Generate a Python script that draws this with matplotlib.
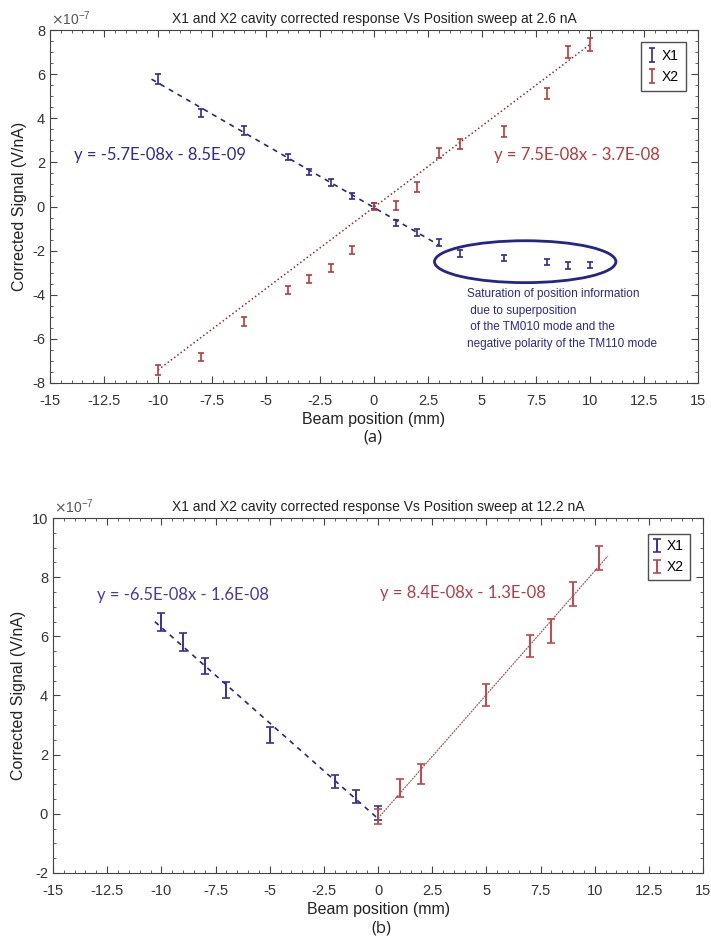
import matplotlib
matplotlib.use('Agg')
import matplotlib.pyplot as plt
import numpy as np
from matplotlib.patches import Ellipse
from matplotlib.ticker import MultipleLocator, FuncFormatter

plt.rcParams['font.family'] = ['Liberation Sans', 'DejaVu Sans']
plt.rcParams['axes.unicode_minus'] = False

SCALE = 1e-7  # values below are in units of 1e-7 V/nA

# (a) sweep at 2.6 nA
pos_a = [-10, -8, -6, -4, -3, -2, -1, 0, 1, 2, 3, 4, 6, 8, 9, 10]
x1_a = [5.78, 4.24, 3.43, 2.25, 1.57, 1.10, 0.48, 0.02, -0.74, -1.18, -1.62, -2.12, -2.33, -2.52, -2.68, -2.65]
x1_a_err = [0.22, 0.2, 0.2, 0.15, 0.15, 0.15, 0.15, 0.15, 0.15, 0.15, 0.15, 0.15, 0.15, 0.15, 0.15, 0.15]
x2_a = [-7.41, -6.82, -5.23, -3.78, -3.29, -2.78, -1.97, 0.0, 0.05, 0.9, 2.43, 2.83, 3.42, 5.14, 7.0, 7.35]
x2_a_err = [0.22, 0.2, 0.2, 0.18, 0.18, 0.18, 0.2, 0.15, 0.2, 0.22, 0.22, 0.22, 0.25, 0.25, 0.27, 0.28]

# (b) sweep at 12.2 nA
pos_b1 = [-10, -9, -8, -7, -5, -2, -1, 0]
x1_b = [6.49, 5.81, 5.0, 4.19, 2.67, 1.08, 0.57, 0.03]
x1_b_err = [0.3, 0.3, 0.28, 0.28, 0.28, 0.22, 0.22, 0.25]
pos_b2 = [0, 1, 2, 5, 7, 8, 9, 10.2]
x2_b = [-0.1, 0.88, 1.35, 4.02, 5.68, 6.18, 7.43, 8.65]
x2_b_err = [0.25, 0.31, 0.34, 0.37, 0.38, 0.4, 0.42, 0.42]

eq_a1 = 'y = -5.7E-08x - 8.5E-09'
eq_a2 = 'y = 7.5E-08x - 3.7E-08'
eq_b1 = 'y = -6.5E-08x - 1.6E-08'
eq_b2 = 'y = 8.4E-08x - 1.3E-08'

blue = '#2e2a96'
red = '#b8393b'
tick_c = '#333333'
cal = ['Lato', 'DejaVu Sans']


def style_axes(ax, ylim, ystep):
    ax.set_xlim(-15, 15)
    ax.set_ylim(ylim[0] * SCALE, ylim[1] * SCALE)
    ax.xaxis.set_major_locator(MultipleLocator(2.5))
    ax.xaxis.set_minor_locator(MultipleLocator(0.5))
    ax.yaxis.set_major_locator(MultipleLocator(ystep * SCALE))
    ax.yaxis.set_minor_locator(MultipleLocator(0.5 * SCALE))
    ax.xaxis.set_major_formatter(FuncFormatter(lambda v, p: '%g' % v))
    ax.yaxis.set_major_formatter(FuncFormatter(lambda v, p: '%g' % round(v / SCALE, 6)))
    ax.text(0.002, 1.006, r'$\times\mathregular{10^{-7}}$', transform=ax.transAxes, fontsize=10,
            color='#555555', ha='left', va='bottom')
    ax.tick_params(which='both', direction='in', top=True, right=True, colors='#444444',
                   labelcolor=tick_c, labelsize=10.5)
    ax.tick_params(which='major', length=5)
    ax.tick_params(which='minor', length=2.5)
    ax.tick_params(axis='x', pad=8)
    for s in ax.spines.values():
        s.set_color('#444444')
    ax.set_xlabel('Beam position (mm)', fontsize=11.5, color='#222222', labelpad=3)
    ax.set_ylabel('Corrected Signal (V/nA)', fontsize=11.5, color='#222222', labelpad=4)


fig = plt.figure(figsize=(7.11, 9.41), dpi=100)
ax1 = fig.add_axes([0.0703, 0.593, 0.9114, 0.375])
ax2 = fig.add_axes([0.0745, 0.0723, 0.9145, 0.3772])

# ---- (a)
pa = np.array(pos_a, dtype=float)
y1 = np.array(x1_a) * SCALE
y2 = np.array(x2_a) * SCALE
e1 = ax1.errorbar(pa, y1, yerr=np.array(x1_a_err) * SCALE, fmt='none', ecolor=blue,
                  elinewidth=1.2, capsize=2.5, capthick=1.2, label='X1', zorder=3)
e2 = ax1.errorbar(pa, y2, yerr=np.array(x2_a_err) * SCALE, fmt='none', ecolor=red,
                  elinewidth=1.2, capsize=2.5, capthick=1.2, label='X2', zorder=3)

# trend lines
lin = pa <= 3
k1, b1 = np.polyfit(pa[lin], y1[lin], 1)
xx = np.array([-10.3, 3.0])
ax1.plot(xx, k1 * xx + b1, ls=(0, (3, 3)), color='#2a2a70', lw=1.2, zorder=2)
ax1.plot([pa[0], pa[-1]], [y2[0], y2[-1]], ls=':', color='#8a3030', lw=1.1, zorder=2)

ax1.add_patch(Ellipse((7.0, -2.5 * SCALE), 8.4, 1.9 * SCALE, fill=False, ec='#24248a', lw=2, zorder=4))
ax1.text(4.3, -3.7 * SCALE, 'Saturation of position information\n due to superposition\n'
         ' of the TM010 mode and the\nnegative polarity of the TM110 mode',
         fontsize=8.5, color='#2a2a8a', va='top', ha='left', linespacing=1.5)
ax1.text(-13.9, 2.33 * SCALE, eq_a1, fontsize=12, color=blue, family=cal, va='center')
ax1.text(5.55, 2.33 * SCALE, eq_a2, fontsize=12, color=red, family=cal, va='center')
ax1.set_title('X1 and X2 cavity corrected response Vs Position sweep at 2.6 nA', fontsize=10, pad=5, color='#222222')
style_axes(ax1, (-8, 8), 2)
leg = ax1.legend(handles=[e1, e2], loc='upper right', fontsize=10, frameon=True, fancybox=False,
                 edgecolor='#222222', handlelength=0.6, handletextpad=0.4, borderpad=0.5,
                 bbox_to_anchor=(0.992, 0.985))
leg.get_frame().set_linewidth(1.0)
fig.text(0.525, 0.535, '(a)', fontsize=12, ha='center', va='center', family=['Open Sans', 'DejaVu Sans'], color='#222222')

# ---- (b)
pb1 = np.array(pos_b1, dtype=float)
pb2 = np.array(pos_b2, dtype=float)
yb1 = np.array(x1_b) * SCALE
yb2 = np.array(x2_b) * SCALE
f1 = ax2.errorbar(pb1, yb1, yerr=np.array(x1_b_err) * SCALE, fmt='none', ecolor='#3b2fa0',
                  elinewidth=1.4, capsize=3, capthick=1.2, label='X1', zorder=3)
f2 = ax2.errorbar(pb2, yb2, yerr=np.array(x2_b_err) * SCALE, fmt='none', ecolor='#c0474d',
                  elinewidth=1.4, capsize=3, capthick=1.2, label='X2', zorder=3)
k3, b3 = np.polyfit(pb1, yb1, 1)
xx = np.array([-10.3, 0.0])
ax2.plot(xx, k3 * xx + b3, ls=(0, (3, 3)), color='#2a2a70', lw=1.2, zorder=2)
k4, b4 = np.polyfit(pb2, yb2, 1)
xx = np.array([0.0, 10.6])
ax2.plot(xx, k4 * xx + b4, ls=(0, (1.5, 0.8)), color='#a05a5a', lw=0.9, zorder=2)

ax2.text(-12.97, 7.4 * SCALE, eq_b1, fontsize=12, color='#4a3aa0', family=cal, va='center')
ax2.text(0.1, 7.45 * SCALE, eq_b2, fontsize=12, color='#b0404a', family=cal, va='center')
ax2.set_title('X1 and X2 cavity corrected response Vs Position sweep at 12.2 nA', fontsize=10, pad=5, color='#222222')
style_axes(ax2, (-2, 10), 2)
leg = ax2.legend(handles=[f1, f2], loc='upper right', fontsize=10, frameon=True, fancybox=False,
                 edgecolor='#222222', handlelength=0.6, handletextpad=0.4, borderpad=0.4,
                 bbox_to_anchor=(0.99, 0.975))
leg.get_frame().set_linewidth(1.0)
fig.text(0.537, 0.013, '(b)', fontsize=12, ha='center', va='center', family=['Open Sans', 'DejaVu Sans'], color='#222222')

fig.savefig('out.png', dpi=100)
